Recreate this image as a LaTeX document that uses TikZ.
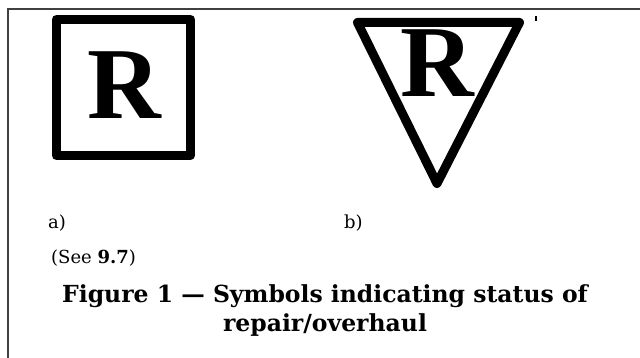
\documentclass[tikz,border=0pt]{standalone}
\usepackage{fontspec}
\setmainfont{DejaVu Serif}
\newfontfamily\symfont{Liberation Serif}
\tikzset{
  frame/.style={draw=black!75, line width=1.8pt},
  symline/.style={draw=black, line width=9pt, line join=round},
  letter/.style={inner sep=0pt, font=\symfont\bfseries\fontsize{102}{102}\selectfont},
  sublabel/.style={anchor=base west, inner sep=0pt, font=\fontsize{18}{21}\selectfont},
  caption/.style={anchor=base, inner sep=0pt, font=\bfseries\fontsize{23.5}{28}\selectfont}
}

\begin{document}
\begin{tikzpicture}[x=1pt,y=-1pt]
  \useasboundingbox (0,0) rectangle (640,358);

  % frame lines at top and left
  \coordinate (corner) at (8,9);
  \coordinate (topend) at (640,9);
  \coordinate (leftend) at (8,358);
  \draw[frame] (topend) -- (corner) -- (leftend);

  % a) square symbol
  \node[symline, minimum width=134pt, minimum height=136pt, inner sep=0pt] (square) at (123.5,87.5) {};
  \node[letter] (squareR) at (124,85) {R};

  % b) triangle symbol
  \coordinate (triTL) at (357.5,22.5);
  \coordinate (triTR) at (519.5,22.5);
  \coordinate (triApex) at (437,183.5);
  \draw[symline] (triTL) -- (triTR) -- (triApex) -- cycle;
  \node[letter] (triR) at (437.5,63) {R};

  % small mark beside the triangle
  \coordinate (markA) at (536,16);
  \coordinate (markB) at (536,21);
  \draw[line width=1.2pt] (markA) -- (markB);

  % labels
  \node[sublabel] (labA) at (48,229) {a)};
  \node[sublabel] (labB) at (344,229) {b)};
  \node[sublabel] (see) at (51,263) {(See \textbf{9.7})};

  \node[caption] (capA) at (325,302) {Figure 1 --- Symbols indicating status of};
  \node[caption] (capB) at (325,331) {repair/overhaul};
\end{tikzpicture}
\end{document}
